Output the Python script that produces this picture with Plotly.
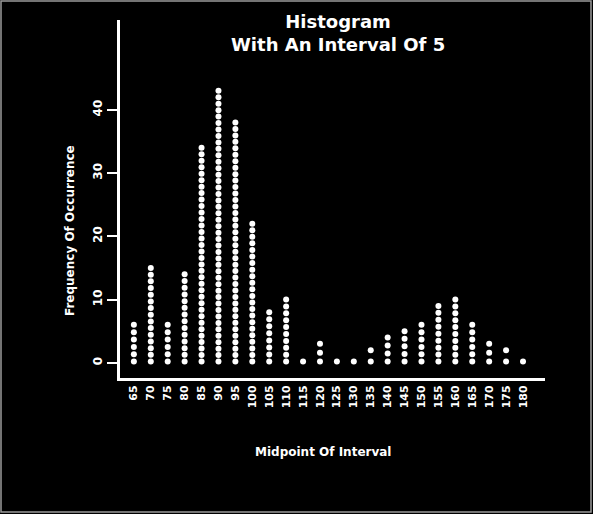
import numpy as np
import plotly.graph_objects as go

# Data
midpoints = [65, 70, 75, 80, 85, 90, 95, 100, 105, 110, 115, 120,
             125, 130, 135, 140, 145, 150, 155, 160, 165, 170, 175, 180]
frequencies = [6, 15, 6, 14, 34, 43, 38, 22, 8, 10, 1, 3,
               1, 1, 2, 4, 5, 6, 9, 10, 6, 3, 2, 1]
y_ticks = [0, 10, 20, 30, 40]

title_text = "Histogram<br>With An Interval Of 5"
x_title = "Midpoint Of Interval"
y_title = "Frequency Of Occurrence"

# Build dotted columns: one dot per counted observation
xs, ys = [], []
for m, f in zip(midpoints, frequencies):
    xs.extend([m] * f)
    ys.extend(np.linspace(0.2, f, f).tolist())

W, H = 593, 514
ml, mr, mt, mb = 120, 48, 20, 136
pw, ph = W - ml - mr, H - mt - mb

font_fam = "DejaVu Sans, Liberation Sans, Arial, sans-serif"

fig = go.Figure()
fig.add_trace(go.Scatter(
    x=xs, y=ys, mode="markers",
    marker=dict(color="white", size=6, line=dict(width=0)),
    hoverinfo="skip", showlegend=False,
))

fig.update_layout(
    width=W, height=H,
    margin=dict(l=ml, r=mr, t=mt, b=mb, autoexpand=False),
    paper_bgcolor="black", plot_bgcolor="black",
    font=dict(family=font_fam, color="white", size=11, weight="bold"),
    xaxis=dict(
        range=[60.9, 186.5],
        tickmode="array", tickvals=midpoints,
        ticktext=[str(m) for m in midpoints],
        tickangle=-90,
        tickfont=dict(size=11, color="white", family=font_fam, weight="bold"),
        showgrid=False, zeroline=False,
        showline=True, linecolor="white", linewidth=3,
        ticks="", ticklen=0, automargin=False,
    ),
    yaxis=dict(
        range=[-2.4, 54.2],
        tickmode="array", tickvals=y_ticks,
        ticktext=[str(t) for t in y_ticks],
        tickangle=-90,
        tickfont=dict(size=12, color="white", family=font_fam, weight="bold"),
        showgrid=False, zeroline=False,
        showline=True, linecolor="white", linewidth=3,
        ticks="outside", ticklen=10, tickwidth=2, tickcolor="white",
        automargin=False,
    ),
    annotations=[
        dict(text=title_text, xref="paper", yref="paper",
             x=(338 - ml) / pw, y=(H - mb - 33) / ph,
             showarrow=False, xanchor="center", yanchor="middle",
             font=dict(size=18, color="white", family=font_fam, weight="bold"),
             align="center"),
        dict(text=x_title, xref="paper", yref="paper",
             x=(323 - ml) / pw, y=0, yshift=-74,
             showarrow=False, xanchor="center", yanchor="middle",
             font=dict(size=12, color="white", family=font_fam, weight="bold")),
        dict(text=y_title, xref="paper", yref="paper",
             x=0, xshift=-50, y=(H - mb - 231) / ph,
             showarrow=False, xanchor="center", yanchor="middle",
             textangle=-90,
             font=dict(size=12, color="white", family=font_fam, weight="bold")),
    ],
    shapes=[
        dict(type="rect", xref="paper", yref="paper",
             x0=(1 - ml) / pw, x1=(W - 2 - ml) / pw,
             y0=(H - mb - (H - 2)) / ph, y1=(H - mb - 1) / ph,
             line=dict(color="#9a9a9a", width=1.5), layer="above"),
    ],
)

fig.write_html(
    "out.html",
    config={"displayModeBar": False},
    post_script="document.body.style.margin='0';document.body.style.background='black';",
)
